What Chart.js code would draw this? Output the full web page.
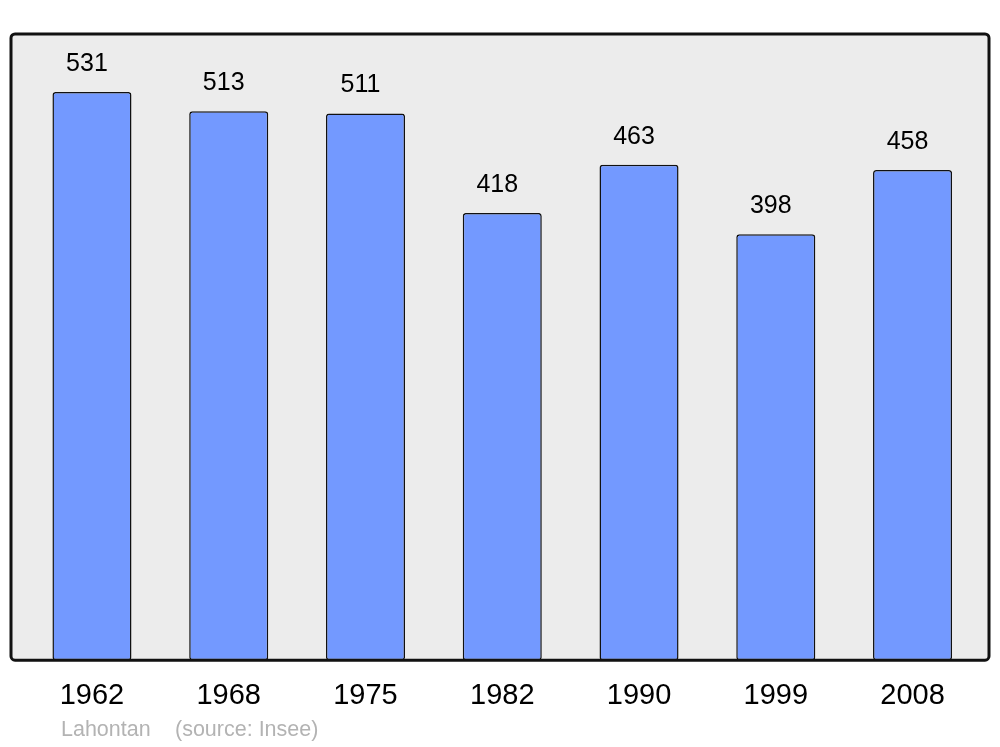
<!DOCTYPE html>
<html>
<head>
<meta charset="utf-8">
<script src="https://cdn.jsdelivr.net/npm/chart.js@4/dist/chart.umd.min.js"></script>
<style>
  html, body { margin: 0; padding: 0; background: #ffffff; }
  #wrap { width: 1000px; height: 747px; }
</style>
</head>
<body>
<div id="wrap"><canvas id="chart" width="1000" height="747"></canvas></div>
<script>
// Data
const years = ['1962', '1968', '1975', '1982', '1990', '1999', '2008'];
const population = [531, 513, 511, 418, 463, 398, 458];
const sourceText = ['Lahontan', '(source: Insee)'];

const FONT = '"Liberation Sans", Arial, sans-serif';

// grey panel behind the bars, border on top
const panelPlugin = {
  id: 'panel',
  beforeDatasetsDraw(chart) {
    const { ctx, chartArea: a } = chart;
    ctx.save();
    ctx.fillStyle = '#ececec';
    ctx.beginPath();
    ctx.roundRect(a.left, a.top, a.right - a.left, a.bottom - a.top, 4);
    ctx.fill();
    ctx.restore();
  },
  afterDatasetsDraw(chart) {
    const { ctx, chartArea: a } = chart;
    ctx.save();
    ctx.strokeStyle = '#111111';
    ctx.lineWidth = 3;
    ctx.beginPath();
    ctx.roundRect(a.left, a.top, a.right - a.left, a.bottom - a.top, 4);
    ctx.stroke();

    // value labels above bars
    const meta = chart.getDatasetMeta(0);
    ctx.fillStyle = '#000000';
    ctx.font = '25px ' + FONT;
    ctx.textAlign = 'center';
    ctx.textBaseline = 'middle';
    meta.data.forEach((bar, i) => {
      ctx.fillText(String(population[i]), bar.x - 5, bar.y - 28);
    });

    // source line
    ctx.fillStyle = '#b3b3b3';
    ctx.font = '21.5px ' + FONT;
    ctx.textAlign = 'left';
    ctx.fillText(sourceText[0], 61, 730);
    ctx.fillText(sourceText[1], 175, 730);
    ctx.restore();
  }
};

new Chart(document.getElementById('chart'), {
  type: 'bar',
  data: {
    datasets: [{
      data: population.map((v, i) => ({ x: i, y: v })),
      backgroundColor: '#7399ff',
      borderColor: '#111111',
      borderWidth: 1.5,
      borderRadius: 3,
      borderSkipped: false,
      barPercentage: 0.578,
      categoryPercentage: 1
    }]
  },
  options: {
    responsive: false,
    animation: false,
    layout: { padding: { left: 11, right: 11, top: 34, bottom: 16 } },
    plugins: { legend: { display: false }, tooltip: { enabled: false } },
    scales: {
      x: {
        type: 'linear',
        offset: false,
        min: -0.592,
        max: 6.559,
        grid: { display: false, drawTicks: false },
        border: { display: false },
        ticks: {
          stepSize: 1,
          includeBounds: false,
          padding: 18,
          color: '#000000',
          font: { family: FONT, size: 29 },
          callback: (v) => Number.isInteger(v) ? years[v] : ''
        }
      },
      y: {
        display: false,
        min: 0,
        max: 585.2
      }
    }
  },
  plugins: [panelPlugin]
});
</script>
</body>
</html>
